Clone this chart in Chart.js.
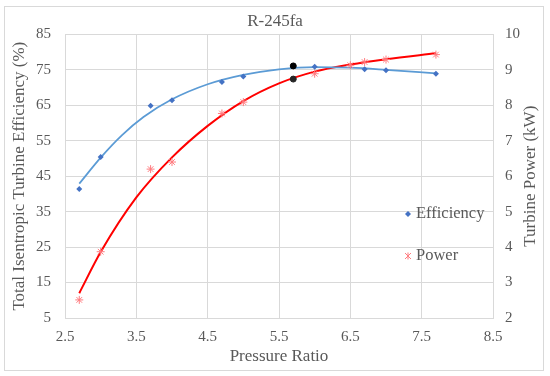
<!DOCTYPE html>
<html>
<head>
<meta charset="utf-8">
<script src="https://cdn.jsdelivr.net/npm/chart.js@4.4.1/dist/chart.umd.min.js"></script>
<style>
  html, body { margin: 0; padding: 0; background: #fff; }
  #wrap { width: 550px; height: 376px; }
</style>
</head>
<body>
<div id="wrap"><canvas id="chart" width="550" height="376"></canvas></div>
<script>
// measured points
const effRatio = [2.7, 3.0, 3.7, 4.0, 4.7, 5.0, 6.0, 6.7, 7.0, 7.7];
const efficiency = [41.4, 50.4, 64.9, 66.4, 71.6, 73.1, 75.9, 75.2, 74.9, 73.9];
const powerRatio = [2.7, 3.0, 3.7, 4.0, 4.7, 5.0, 6.0, 6.5, 6.7, 7.0, 7.7];
const power = [2.51, 3.87, 6.20, 6.40, 7.77, 8.09, 8.89, 9.13, 9.22, 9.29, 9.43];

// design point (black markers)
const designRatio = [5.7];
const designEff = [76.1];
const designPower = [8.74];

// trend lines
const effTrendRatio = [2.7, 3.0, 3.3, 3.6, 4.0, 4.5, 5.0, 5.5, 6.0, 6.5, 7.0, 7.7];
const effTrend = [42.9, 50.25, 56.6, 61.7, 66.7, 70.95, 73.6, 75.15, 75.8, 75.6, 75.0, 74.0];
const powerTrendRatio = [2.7, 3.0, 3.5, 4.0, 4.5, 5.0, 5.5, 6.0, 6.5, 7.0, 7.7];
const powerTrend = [2.70, 3.86, 5.40, 6.53, 7.42, 8.12, 8.62, 8.95, 9.15, 9.30, 9.47];

const title = "R-245fa";
const xTitle = "Pressure Ratio";
const yTitle = "Total Isentropic Turbine Efficiency (%)";
const y2Title = "Turbine Power (kW)";

const FONT = "'Liberation Serif', 'Times New Roman', serif";
const GRAY = "#595959";
const GRID = "#D9D9D9";

const pts = (xs, ys) => xs.map((x, i) => ({ x: x, y: ys[i] }));

// outer frame, inner legend and right axis title
const extras = {
  id: "extras",
  beforeDraw(chart) {
    const ctx = chart.ctx;
    ctx.save();
    ctx.fillStyle = "#fff";
    ctx.fillRect(0, 0, chart.width, chart.height);
    ctx.strokeStyle = GRID;
    ctx.lineWidth = 1;
    ctx.strokeRect(4.5, 6.5, 539, 364);
    ctx.restore();
  },
  afterDraw(chart) {
    const ctx = chart.ctx;
    const a = chart.chartArea;
    ctx.save();
    // legend
    ctx.font = "16.5px " + FONT;
    ctx.textBaseline = "middle";
    ctx.textAlign = "left";
    let mx = 408, my = 214;
    ctx.fillStyle = "#4472C4";
    ctx.beginPath();
    ctx.moveTo(mx, my - 3); ctx.lineTo(mx + 3, my); ctx.lineTo(mx, my + 3); ctx.lineTo(mx - 3, my);
    ctx.closePath(); ctx.fill();
    ctx.fillStyle = GRAY;
    ctx.fillText("Efficiency", 416, my);
    my = 256;
    ctx.strokeStyle = "#FF7C80";
    ctx.lineWidth = 1;
    ctx.beginPath();
    ctx.moveTo(mx - 3, my - 3); ctx.lineTo(mx + 3, my + 3);
    ctx.moveTo(mx + 3, my - 3); ctx.lineTo(mx - 3, my + 3);
    ctx.moveTo(mx, my - 3.5); ctx.lineTo(mx, my + 3.5);
    ctx.stroke();
    ctx.fillText("Power", 416, my);
    // right axis title, reading bottom to top
    ctx.font = "17px " + FONT;
    ctx.textAlign = "center";
    ctx.translate(531, (a.top + a.bottom) / 2);
    ctx.rotate(-Math.PI / 2);
    ctx.fillText(y2Title, 0, 0);
    ctx.restore();
  }
};

new Chart(document.getElementById("chart"), {
  type: "scatter",
  data: {
    datasets: [
      {
        label: "Efficiency",
        data: pts(effRatio, efficiency),
        yAxisID: "y",
        pointStyle: "rectRot",
        pointRadius: 3,
        backgroundColor: "#4472C4",
        borderColor: "#4472C4",
        borderWidth: 0,
        order: 0
      },
      {
        label: "Power",
        data: pts(powerRatio, power),
        yAxisID: "y2",
        pointStyle: "star",
        pointRadius: 4,
        borderColor: "#FF7C80",
        backgroundColor: "#FF7C80",
        borderWidth: 1,
        order: 0
      },
      {
        label: "Design efficiency",
        data: pts(designRatio, designEff),
        yAxisID: "y",
        pointRadius: 3,
        backgroundColor: "#000",
        borderColor: "#000",
        order: 0
      },
      {
        label: "Design power",
        data: pts(designRatio, designPower),
        yAxisID: "y2",
        pointRadius: 3,
        backgroundColor: "#262626",
        borderColor: "#262626",
        order: 0
      },
      {
        label: "Efficiency trend",
        type: "line",
        data: pts(effTrendRatio, effTrend),
        yAxisID: "y",
        borderColor: "#5B9BD5",
        borderWidth: 1.75,
        pointRadius: 0,
        cubicInterpolationMode: "monotone",
        fill: false,
        order: 1
      },
      {
        label: "Power trend",
        type: "line",
        data: pts(powerTrendRatio, powerTrend),
        yAxisID: "y2",
        borderColor: "#FF0000",
        borderWidth: 2,
        pointRadius: 0,
        cubicInterpolationMode: "monotone",
        fill: false,
        order: 1
      }
    ]
  },
  options: {
    responsive: false,
    animation: false,
    layout: { padding: 0 },
    plugins: {
      legend: { display: false },
      tooltip: { enabled: false },
      title: {
        display: true,
        text: title,
        color: GRAY,
        font: { family: FONT, size: 17, weight: "normal" },
        padding: { top: 11, bottom: 3 }
      }
    },
    scales: {
      x: {
        type: "linear",
        min: 2.5,
        max: 8.5,
        ticks: { stepSize: 1, color: GRAY, padding: 10, font: { family: FONT, size: 15 } },
        grid: { color: GRID, drawTicks: false },
        border: { color: GRID },
        title: {
          display: true,
          text: xTitle,
          color: GRAY,
          font: { family: FONT, size: 17 },
          padding: { top: 0, bottom: 9 }
        },
        afterFit(s) { s.height = 58; }
      },
      y: {
        position: "left",
        min: 5,
        max: 85,
        ticks: { stepSize: 10, color: GRAY, padding: 14, font: { family: FONT, size: 15 } },
        grid: { color: GRID, drawTicks: false },
        border: { color: GRID },
        title: {
          display: true,
          text: yTitle,
          color: GRAY,
          font: { family: FONT, size: 17 },
          padding: { top: 9, bottom: 0 }
        },
        afterFit(s) { s.width = 65; }
      },
      y2: {
        position: "right",
        min: 2,
        max: 10,
        ticks: { stepSize: 1, color: GRAY, padding: 12, font: { family: FONT, size: 15 } },
        grid: { display: false, drawTicks: false },
        border: { color: GRID },
        afterFit(s) { s.width = 57; }
      }
    }
  },
  plugins: [extras]
});
</script>
</body>
</html>
